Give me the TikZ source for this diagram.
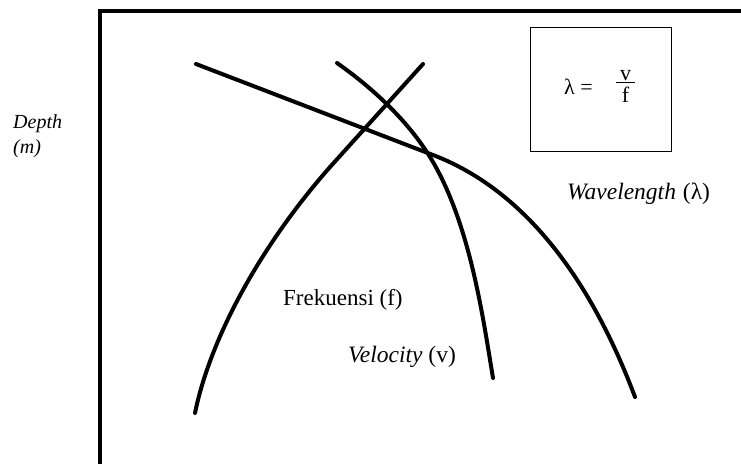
\documentclass[tikz,border=0pt]{standalone}
\usepackage{fontspec}
\setmainfont{Liberation Serif}
\begin{document}
\begin{tikzpicture}[x=1pt,y=-1pt,
  curve/.style={line width=4pt,line cap=round,black},
  frame/.style={line width=4pt,black},
  lbl/.style={inner sep=0pt,anchor=base west,font=\fontsize{23}{27}\selectfont},
  lblit/.style={inner sep=0pt,anchor=base west,font=\fontsize{23.5}{27}\selectfont\itshape},
  depthlbl/.style={inner sep=0pt,anchor=base west,font=\fontsize{20}{24}\selectfont\itshape},
  eqtxt/.style={inner sep=0pt,anchor=base,font=\fontsize{22}{26}\selectfont},
  eqbox/.style={draw,line width=1.2pt,minimum width=141pt,minimum height=124pt,inner sep=0pt}]
\useasboundingbox (0,0) rectangle (741,463);
% frame (axes)
\draw[frame] (743,11) -- (100,11) -- (100,465);
% formula box
\node[eqbox,anchor=north west] (box) at (530,27) {};
\node[eqtxt,anchor=base west] (lam) at (564,94) {λ =};
\node[eqtxt] (num) at (625.5,80) {v};
\node[eqtxt] (den) at (625.5,102) {f};
\coordinate (barl) at (616,82.5);
\coordinate (barr) at (635,82.5);
\draw[line width=1pt] (barl) -- (barr);
% curves
\draw[curve] (196,64) -- (433,155) .. controls (543,197) and (603,312) .. (635,397);
\draw[curve] (423,64) -- (330,167) .. controls (263,243) and (211,335) .. (195,413);
\draw[curve] (337,63) .. controls (367,84) and (405,116.5) .. (430,157)
  .. controls (470,222) and (483,318) .. (493,378);
% labels
\node[depthlbl] (depth) at (13,128) {Depth};
\node[depthlbl] (unit) at (13,153) {(m)};
\node[lblit] (wave) at (567,199) {Wavelength\hspace{7pt}\upshape(λ)};
\node[lbl] (freq) at (283,305) {Frekuensi (f)};
\node[lblit] (vel) at (348,362) {Velocity \upshape(v)};
\end{tikzpicture}
\end{document}
